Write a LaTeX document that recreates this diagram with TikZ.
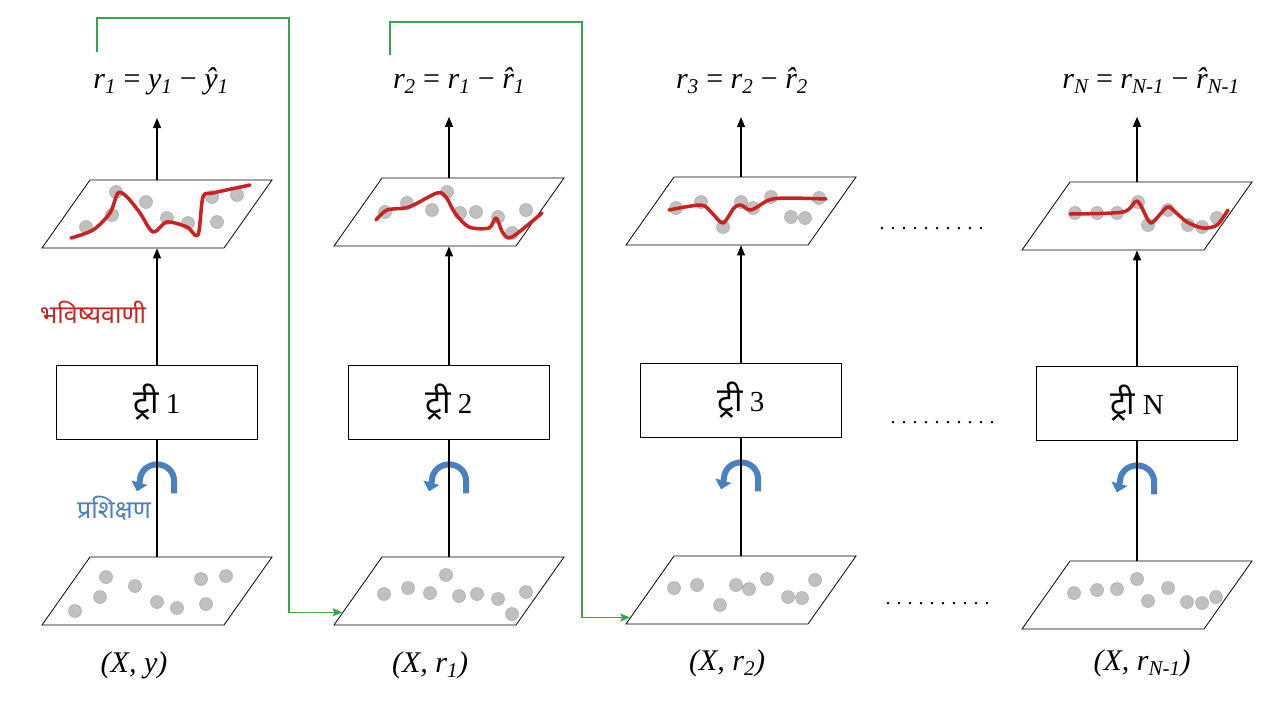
\documentclass[tikz,border=0pt]{standalone}
\usepackage{fontspec}
\setmainfont{Liberation Serif}
\newfontfamily\devfont[Script=Devanagari]{Noto Sans}
\usetikzlibrary{arrows.meta,calc}
\definecolor{predred}{RGB}{205,32,32}
\definecolor{trainblue}{RGB}{72,128,192}
\definecolor{resgreen}{RGB}{56,163,76}
\definecolor{dotgray}{RGB}{192,192,192}
\definecolor{dotedge}{RGB}{168,168,168}
\newcommand{\lowix}[1]{\textsubscript{#1}}
\newcommand{\dotrow}{.\foreach \k in {2,...,10}{\kern6pt.}}
\newcommand{\tree}{{\devfont\fontsize{33}{36}\selectfont ट्री}}

\begin{document}
\begin{tikzpicture}[x=1pt,y=-1pt,
  para/.style={draw, line width=0.8pt, minimum width=182pt, minimum height=68pt,
    xslant=0.706, inner sep=0pt},
  treebox/.style={draw, line width=0.8pt, minimum width=201pt, minimum height=74pt,
    font=\fontsize{29}{32}\selectfont},
  formula/.style={anchor=base, font=\fontsize{30}{34}\selectfont\itshape},
  dataset/.style={anchor=base, font=\fontsize{30}{34}\selectfont\itshape},
  up/.style={line width=1.3pt, -{Triangle[length=10pt,width=8pt]}},
  stem/.style={line width=1.3pt},
  res/.style={resgreen, line width=1.4pt, -{Stealth[length=10pt,width=8pt,inset=2pt]}},
  train/.style={trainblue, line width=6pt, -{Triangle[length=9pt,width=16pt]}},
  fit/.style={predred, line width=3.5pt, line cap=round, line join=round},
  pt/.style={fill=dotgray, draw=dotedge, line width=0.5pt},
  dotsep/.style={anchor=base west, font=\fontsize{20}{24}\selectfont}]
\path[fill=white] (0,0) rectangle (1280,720);

% data sets at the bottom
\node[para] (d1) at (157,591) {};
\node[para] (d2) at (449,591) {};
\node[para] (d3) at (741,590) {};
\node[para] (d4) at (1137,595) {};
% trees
\node[treebox] (b1) at (157,402) {\tree{} 1};
\node[treebox] (b2) at (449,402) {\tree{} 2};
\node[treebox] (b3) at (741,400) {\tree{} 3};
\node[treebox] (b4) at (1137,403) {\tree{} N};
% predictions
\node[para] (t1) at (157,214) {};
\node[para] (t2) at (449,212) {};
\node[para] (t3) at (741,211) {};
\node[para] (t4) at (1137,216) {};
% residuals
\node[formula] (f1) at (161,88) {r\lowix{1} {\upshape =} y\lowix{1} {\upshape −} ŷ\lowix{1}};
\node[formula] (f2) at (459,88) {r\lowix{2} {\upshape =} r\lowix{1} {\upshape −} \^{r}\lowix{1}};
\node[formula] (f3) at (742,88) {r\lowix{3} {\upshape =} r\lowix{2} {\upshape −} \^{r}\lowix{2}};
\node[formula] (f4) at (1151,88) {r\lowix{N} {\upshape =} r\lowix{N-1} {\upshape −} \^{r}\lowix{N-1}};
% labels under the data sets
\node[dataset] (l1) at (134,672) {(X, y)};
\node[dataset] (l2) at (430,672) {(X, r\lowix{1})};
\node[dataset] (l3) at (727,670) {(X, r\lowix{2})};
\node[dataset] (l4) at (1142,670) {(X, r\lowix{N-1})};
\node[predred, font=\devfont\fontsize{25}{28}\selectfont] (p1) at (93,312) {भविष्यवाणी};
\node[trainblue, font=\devfont\fontsize{25}{28}\selectfont] (q1) at (114,508) {प्रशिक्षण};

% points and fitted curves
\path[pt]
(106,577) circle [radius=6.5] (135,586) circle [radius=6.5] (100,597) circle [radius=6.5]
(75,611) circle [radius=6.5] (157,602) circle [radius=6.5] (177,608) circle [radius=6.5]
(206,604) circle [radius=6.5] (201,579) circle [radius=6.5] (226,576) circle [radius=6.5]
(384,594) circle [radius=6.5] (408,588) circle [radius=6.5] (430,593) circle [radius=6.5]
(446,575) circle [radius=6.5] (459,596) circle [radius=6.5] (477,594) circle [radius=6.5]
(498,599) circle [radius=6.5] (512,614) circle [radius=6.5] (526,592) circle [radius=6.5]
(674,588) circle [radius=6.5] (697,585) circle [radius=6.5] (720,605) circle [radius=6.5]
(736,585) circle [radius=6.5] (749,589) circle [radius=6.5] (767,579) circle [radius=6.5]
(788,597) circle [radius=6.5] (802,598) circle [radius=6.5] (815,580) circle [radius=6.5]
(1074,593) circle [radius=6.5] (1097,590) circle [radius=6.5] (1117,589) circle [radius=6.5]
(1137,579) circle [radius=6.5] (1148,601) circle [radius=6.5] (1168,588) circle [radius=6.5]
(1187,602) circle [radius=6.5] (1202,603) circle [radius=6.5] (1216,597) circle [radius=6.5];
\path[pt]
(116,192) circle [radius=6.5] (112,215) circle [radius=6.5] (146,202) circle [radius=6.5]
(86,227) circle [radius=6.5] (167,218) circle [radius=6.5] (188,223) circle [radius=6.5]
(212,197) circle [radius=6.5] (237,195) circle [radius=6.5] (217,222) circle [radius=6.5]
(385,212) circle [radius=6.5] (407,203) circle [radius=6.5] (432,210) circle [radius=6.5]
(447,192) circle [radius=6.5] (460,213) circle [radius=6.5] (476,212) circle [radius=6.5]
(498,217) circle [radius=6.5] (512,233) circle [radius=6.5] (526,210) circle [radius=6.5]
(676,208) circle [radius=6.5] (701,202) circle [radius=6.5] (723,227) circle [radius=6.5]
(741,202) circle [radius=6.5] (753,208) circle [radius=6.5] (771,197) circle [radius=6.5]
(791,217) circle [radius=6.5] (805,218) circle [radius=6.5] (819,198) circle [radius=6.5]
(1075,213) circle [radius=6.5] (1097,213) circle [radius=6.5] (1117,213) circle [radius=6.5]
(1138,202) circle [radius=6.5] (1148,225) circle [radius=6.5] (1168,210) circle [radius=6.5]
(1188,225) circle [radius=6.5] (1202,227) circle [radius=6.5] (1217,218) circle [radius=6.5];
\draw[fit] plot[smooth, tension=0.5] coordinates {(71,238) (93,230) (110,213) (118,193)
  (127,197) (140,213) (153,232) (167,222) (187,227) (198,235) (203,197) (213,193) (250,185)};
\draw[fit] plot[smooth, tension=0.5] coordinates {(376,220) (387,210) (409,207) (437,193)
  (446,197) (455,213) (469,227) (489,228) (496,218) (503,233) (512,237) (542,213)};
\draw[fit] plot[smooth, tension=0.5] coordinates {(669,210) (701,205) (712,213) (723,223)
  (734,208) (741,205) (751,210) (769,200) (787,198) (826,199)};
\draw[fit] plot[smooth, tension=0.5] coordinates {(1070,214) (1123,212) (1137,201) (1148,220)
  (1153,222) (1167,207) (1173,210) (1187,222) (1203,228) (1217,225) (1228,210)};

% training arrows
\foreach \b in {b1,b2,b3,b4}
  \draw[train] ($(\b.south)+(17,54)$) -- ++(0,-13)
    arc [start angle=0, end angle=-180, x radius=17, y radius=16] -- ++(-3,11);

% flow
\foreach \i in {1,2,3,4} {
  \draw[stem] (d\i.center |- d\i.north) -- (b\i.south);
  \draw[up] (b\i.north) -- (t\i.center |- t\i.south);
  \draw[up, shorten >=20pt] (t\i.center |- t\i.north) -- (t\i.center |- f\i.south);
}

% residuals passed on
\coordinate (s1) at (97,52);
\coordinate (k1) at (289,18);
\coordinate (s2) at (390,55);
\coordinate (k2) at (582,22);
\draw[res] (s1) |- (k1) |- ($(d2.south west)!0.19!(d2.north west)$);
\draw[res] (s2) |- (k2) |- ($(d3.south west)!0.10!(d3.north west)$);

\node[dotsep] (g1) at (876,229) {\dotrow};
\node[dotsep] (g2) at (887,423) {\dotrow};
\node[dotsep] (g3) at (882,604) {\dotrow};
\end{tikzpicture}
\end{document}
